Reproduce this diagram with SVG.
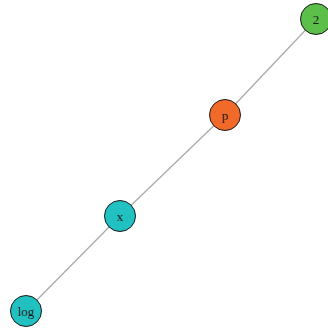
<svg xmlns="http://www.w3.org/2000/svg" width="328" height="332" viewBox="0 0 328 332">
<style>
.n{stroke:#1a1a1a;stroke-width:1}
.t{font-family:"Liberation Serif",serif;font-size:13px;fill:#1a1a1a;text-anchor:middle;dominant-baseline:central}
.e{stroke:#a8a8a8;stroke-width:1.2;fill:none}
</style>
<rect width="328" height="332" fill="#ffffff"/>
<g id="edges">
<line class="e" x1="26" y1="311" x2="120" y2="216"/>
<line class="e" x1="120" y1="216" x2="225" y2="115"/>
<line class="e" x1="225" y1="115" x2="316" y2="19"/>
</g>
<g id="node-2"><circle class="n" cx="316" cy="19" r="15.5" fill="#5cbf4a"/><text class="t" x="316" y="19">2</text></g>
<g id="node-p"><circle class="n" cx="225" cy="115" r="15.5" fill="#f26a2a"/><text class="t" x="225" y="115">p</text></g>
<g id="node-x"><circle class="n" cx="120" cy="216" r="15.5" fill="#22c1c1"/><text class="t" x="120" y="216">x</text></g>
<g id="node-log"><circle class="n" cx="26" cy="311" r="15.5" fill="#22c1c1"/><text class="t" x="26" y="311">log</text></g>
</svg>
